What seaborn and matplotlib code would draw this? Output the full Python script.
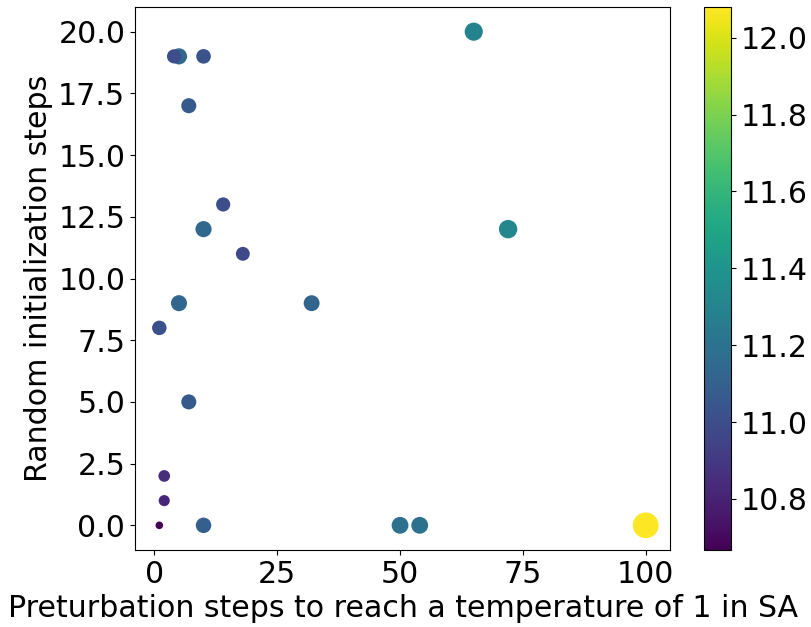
import pandas as pd
import matplotlib
matplotlib.use('Agg')
import matplotlib.pyplot as plt
import seaborn as sns

# steps
perturbation_steps = [1, 2, 2, 10, 50, 54, 100, 7, 1, 5, 32, 18, 10, 72, 14, 7, 5, 4, 10, 65]
random_init_steps = [0, 1, 2, 0, 0, 0, 0, 5, 8, 9, 9, 11, 12, 12, 13, 17, 19, 19, 19, 20]
score = [10.667, 10.82, 10.85, 11.09, 11.19, 11.19, 12.08, 11.06, 11.02, 11.13, 11.12,
         10.98, 11.14, 11.32, 11.0, 11.06, 11.14, 11.0, 11.03, 11.30]

vmin, vmax = 10.667, 12.08
fs = 21.6

data = pd.DataFrame({'x': perturbation_steps, 'y': random_init_steps, 'score': score})

fig = plt.figure(figsize=(8.11, 6.27), dpi=100)
ax = fig.add_axes([135 / 811, 77 / 627, 535 / 811, 543 / 627])
cax = fig.add_axes([704 / 811, 77 / 627, 27 / 811, 543 / 627])

sns.scatterplot(
    data=data, x='x', y='y',
    hue='score', palette='viridis', hue_norm=(vmin, vmax),
    size='score', sizes=(30, 345), size_norm=(vmin, vmax),
    linewidth=0, alpha=1, legend=False, ax=ax
)

ax.set_xlabel('Preturbation steps to reach a temperature of 1 in SA', fontsize=fs)
ax.set_ylabel('Random initialization steps', fontsize=fs)
ax.tick_params(labelsize=fs)
ax.set_xticks([0, 25, 50, 75, 100])
ax.set_yticks([0, 2.5, 5, 7.5, 10, 12.5, 15, 17.5, 20])

# colorbar for the score
norm = plt.Normalize(vmin, vmax)
sm = plt.cm.ScalarMappable(cmap='viridis', norm=norm)
sm.set_array([])
cbar = fig.colorbar(sm, cax=cax)
cbar.ax.tick_params(labelsize=fs)

fig.savefig('out.png', dpi=100)
